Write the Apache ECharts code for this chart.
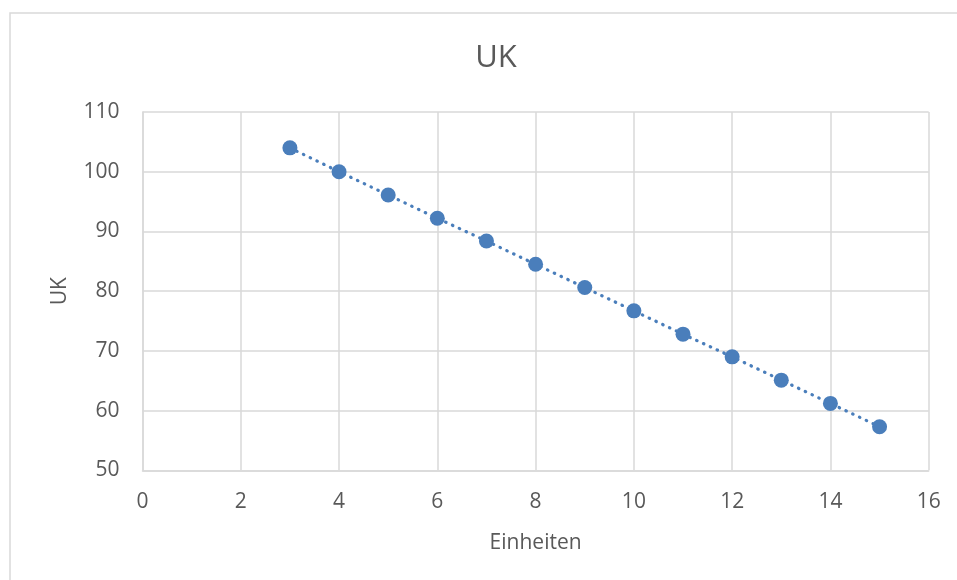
<!DOCTYPE html>
<html>
<head>
<meta charset="utf-8">
<script src="https://cdn.jsdelivr.net/npm/echarts@6/dist/echarts.min.js"></script>
<style>
html,body{margin:0;padding:0;background:#fff;}
#chart{width:957px;height:580px;}
</style>
</head>
<body>
<div id="chart"></div>
<script>
const einheiten = [3, 4, 5, 6, 7, 8, 9, 10, 11, 12, 13, 14, 15];
const ukValues = [104.0, 100.0, 96.1, 92.2, 88.4, 84.5, 80.6, 76.7, 72.8, 69.0, 65.1, 61.2, 57.3];
const titleText = 'UK';
const xName = 'Einheiten';
const yName = 'UK';

const points = einheiten.map((x, i) => [x, ukValues[i]]);
const font = '"Open Sans", "Noto Sans", sans-serif';
const textColor = '#595959';
const gridColor = '#d9d9d9';
const blue = '#4a7ebb';

const chart = echarts.init(document.getElementById('chart'), null, {renderer: 'canvas'});
chart.setOption({
  animation: false,
  backgroundColor: '#fff',
  graphic: [{
    type: 'rect',
    shape: {x: 10, y: 13, width: 980, height: 600},
    style: {fill: 'none', stroke: gridColor, lineWidth: 1.5},
    silent: true,
    z: -1
  }],
  title: {
    text: titleText,
    left: 491,
    top: 38,
    textAlign: 'center',
    textStyle: {fontFamily: font, fontSize: 31, fontWeight: 'normal', color: textColor}
  },
  grid: {left: 142.5, right: 28.3, top: 112, bottom: 109.7},
  xAxis: {
    type: 'value',
    min: 0, max: 16, interval: 2,
    name: xName,
    nameLocation: 'middle',
    nameGap: 62,
    nameTextStyle: {fontFamily: font, fontSize: 21, color: textColor},
    axisLine: {show: true, lineStyle: {color: gridColor, width: 1.5}},
    axisTick: {show: false},
    splitLine: {show: true, lineStyle: {color: gridColor, width: 1.5}},
    axisLabel: {fontFamily: font, fontSize: 21, color: textColor, margin: 21}
  },
  yAxis: {
    type: 'value',
    min: 50, max: 110, interval: 10,
    name: yName,
    nameLocation: 'middle',
    nameGap: 72,
    nameRotate: 90,
    nameTextStyle: {fontFamily: font, fontSize: 21, color: textColor},
    axisLine: {show: true, lineStyle: {color: gridColor, width: 1.5}},
    axisTick: {show: false},
    splitLine: {show: true, lineStyle: {color: gridColor, width: 1.5}},
    axisLabel: {fontFamily: font, fontSize: 21, color: textColor, margin: 23}
  },
  series: [{
    type: 'line',
    data: points,
    showSymbol: false,
    symbol: 'none',
    lineStyle: {color: blue, width: 3.2, type: [0.5, 7], cap: 'round'},
    z: 2
  }, {
    type: 'scatter',
    data: points,
    symbol: 'circle',
    symbolSize: 15,
    itemStyle: {color: blue, opacity: 1},
    z: 3
  }]
});
</script>
</body>
</html>
